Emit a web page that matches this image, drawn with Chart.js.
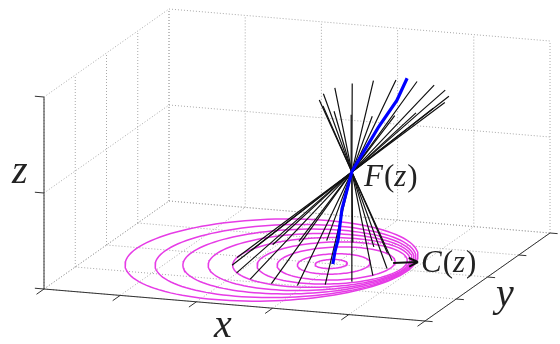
<!DOCTYPE html>
<html>
<head>
<meta charset="utf-8">
<script src="https://cdn.jsdelivr.net/npm/chart.js@4.4.0/dist/chart.umd.min.js"></script>
<style>
  html, body { margin: 0; padding: 0; background: #fff; }
  canvas { display: block; }
</style>
</head>
<body>
<canvas id="chart" width="560" height="344"></canvas>
<script>
// box ticks (unit cube)
const xTicks = [0, 0.2, 0.4, 0.6, 0.8, 1];
const yTicks = [0, 0.25, 0.5, 0.75, 1];
const zTicks = [0, 0.5, 1];

// C(z): circles on the floor, outer to inner
const ringCenterX = [0.437, 0.473, 0.505, 0.534, 0.562, 0.589, 0.600, 0.596, 0.590];
const ringCenterY = [0.488, 0.490, 0.496, 0.501, 0.506, 0.510, 0.508, 0.501, 0.499];
const ringRadius  = [0.355, 0.316, 0.280, 0.247, 0.215, 0.182, 0.143, 0.088, 0.039];

// F(z): blue focal curve
const focusX = [0.594, 0.600, 0.608, 0.618, 0.644, 0.713, 0.762, 0.789];
const focusY = [0.5, 0.5, 0.5, 0.5, 0.5, 0.5, 0.5, 0.5];
const focusZ = [0, 0.07, 0.13, 0.29, 0.49, 0.73, 0.88, 1.0];

// rays through F(z)
const rayBase = [0.542, 0.4925, 0];
const rayRadius = 0.194;
const rayApex = [0.644, 0.5, 0.488];
const rayReach = 0.81;
const rayAngles = [2, 22, 42, 62, 82, 102, 122, 142, 162, 182, 202, 222, 242, 262, 282, 302, 322, 342];

// arrow to C(z)
const arrowFrom = [0.732, 0.562, 0];
const arrowTo = [0.787, 0.593, 0];

// view
const view = { ox: 44, oy: 289, xx: 381, xy: 32, yx: 125, yy: -88, zy: -192 };
const yAspect = 1.265;

function project(p) {
    return {
        x: view.ox + view.xx * p[0] + view.yx * p[1],
        y: view.oy + view.xy * p[0] + view.yy * p[1] + view.zy * p[2]
    };
}

const datasets = [];
function addLine(points3d, style) {
    datasets.push(Object.assign({
        data: points3d.map(project),
        showLine: true,
        pointRadius: 0,
        fill: false,
        tension: 0,
        borderWidth: 1,
        borderColor: '#000'
    }, style));
}

const gridStyle = { borderColor: '#a8a8a8', borderDash: [1, 2], order: 6 };
const axisStyle = { borderColor: '#333', borderWidth: 1, order: 5 };

// left wall, back wall, floor
yTicks.forEach(y => addLine([[0, y, 0], [0, y, 1]], gridStyle));
zTicks.forEach(z => addLine([[0, 0, z], [0, 1, z]], gridStyle));
xTicks.forEach(x => addLine([[x, 1, 0], [x, 1, 1]], gridStyle));
zTicks.forEach(z => addLine([[0, 1, z], [1, 1, z]], gridStyle));
xTicks.forEach(x => addLine([[x, 0, 0], [x, 1, 0]], gridStyle));
yTicks.forEach(y => addLine([[0, y, 0], [1, y, 0]], gridStyle));

// axes and ticks
addLine([[0, 0, 0], [1, 0, 0]], axisStyle);
addLine([[1, 0, 0], [1, 1, 0]], axisStyle);
addLine([[0, 0, 0], [0, 0, 1]], axisStyle);
xTicks.forEach(x => addLine([[x, 0, 0], [x, -0.06, 0]], axisStyle));
yTicks.forEach(y => addLine([[1, y, 0], [1.02, y, 0]], axisStyle));
zTicks.forEach(z => addLine([[0, 0, z], [-0.024, 0, z]], axisStyle));

// rings
ringRadius.forEach((r, i) => {
    const pts = [];
    for (let t = 0; t <= 120; t++) {
        const a = t / 120 * 2 * Math.PI;
        pts.push([ringCenterX[i] + r * Math.cos(a), ringCenterY[i] + yAspect * r * Math.sin(a), 0]);
    }
    addLine(pts, { borderColor: '#e63ce6', borderWidth: 1.5, order: 3 });
});

// rays
rayAngles.forEach(deg => {
    const a = deg * Math.PI / 180;
    const b = [rayBase[0] + rayRadius * Math.cos(a), rayBase[1] + yAspect * rayRadius * Math.sin(a), rayBase[2]];
    const top = b.map((v, k) => rayApex[k] + rayReach * (rayApex[k] - v));
    addLine([b, rayApex, top], { borderColor: '#111', borderWidth: 1.2, order: 2 });
});

// focal curve
addLine(focusX.map((x, i) => [x, focusY[i], focusZ[i]]), { borderColor: '#0000ff', borderWidth: 3.2, order: 1 });

// arrow
addLine([arrowFrom, arrowTo], { borderColor: '#111', borderWidth: 2, order: 0 });
(function () {
    const p = project(arrowFrom), q = project(arrowTo);
    const len = Math.hypot(q.x - p.x, q.y - p.y);
    const ux = (q.x - p.x) / len, uy = (q.y - p.y) / len;
    [0.45, -0.45].forEach(s => {
        const c = Math.cos(s), sn = Math.sin(s);
        const dx = ux * c - uy * sn, dy = ux * sn + uy * c;
        datasets.push({
            data: [{ x: q.x - 10 * dx, y: q.y - 10 * dy }, q],
            showLine: true, pointRadius: 0, borderColor: '#111', borderWidth: 2, order: 0
        });
    });
})();

const texts = [
    { parts: [['z', true]], x: 12, y: 183, size: 40 },
    { parts: [['x', true]], x: 214, y: 337, size: 40 },
    { parts: [['y', true]], x: 496, y: 306, size: 40 },
    { parts: [['F', true], ['(', false], ['z', true], [')', false]], x: 364, y: 186, size: 31 },
    { parts: [['C', true], ['(', false], ['z', true], [')', false]], x: 421, y: 272, size: 31 }
];

const labelPlugin = {
    id: 'labels',
    afterDatasetsDraw(chart) {
        const ctx = chart.ctx;
        ctx.save();
        ctx.fillStyle = '#222';
        ctx.textBaseline = 'alphabetic';
        texts.forEach(t => {
            let x = t.x;
            t.parts.forEach(([s, it]) => {
                ctx.font = (it ? 'italic ' : '') + t.size + 'px "Liberation Serif", "DejaVu Serif", serif';
                ctx.fillText(s, x, t.y);
                x += ctx.measureText(s).width + (it ? 1 : 0);
            });
        });
        ctx.restore();
    }
};

new Chart(document.getElementById('chart').getContext('2d'), {
    type: 'scatter',
    data: { datasets: datasets },
    options: {
        responsive: false,
        animation: false,
        events: [],
        layout: { padding: 0 },
        plugins: { legend: { display: false }, tooltip: { enabled: false } },
        scales: {
            x: { type: 'linear', min: 0, max: 560, display: false },
            y: { type: 'linear', min: 0, max: 344, reverse: true, display: false }
        }
    },
    plugins: [labelPlugin]
});
</script>
</body>
</html>
